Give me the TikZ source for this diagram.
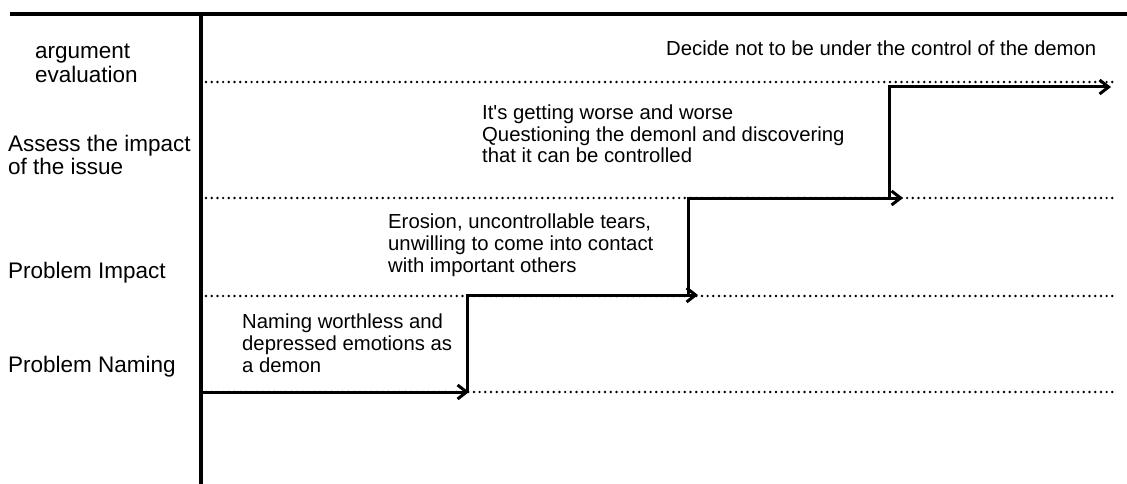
\documentclass[tikz,border=0pt]{standalone}
\usepackage{fontspec}
\setmainfont{Liberation Sans}
\usetikzlibrary{arrows.meta}
\begin{document}
\begin{tikzpicture}[x=1pt,y=-1pt,
  axis/.style={line width=3.2pt},
  guide/.style={line width=2.7pt,line cap=round,dash pattern=on 0pt off 5.7pt},
  flow/.style={line width=3pt,-{Straight Barb[length=9pt,width=14pt,line width=3pt]}},
  lbl/.style={anchor=base west,inner sep=0pt,align=left,font=\fontsize{22.5}{24}\selectfont},
  txt/.style={anchor=base west,inner sep=0pt,align=left,font=\fontsize{20.3}{21.7}\selectfont}]
\useasboundingbox (0,0) rectangle (1127,484);
% axes
\coordinate (tl) at (10,14);
\coordinate (tr) at (1127,14);
\coordinate (vt) at (201,14);
\coordinate (vb) at (201,484);
\draw[axis] (tl) -- (tr);
\draw[axis] (vt) -- (vb);
% guide lines
\coordinate (g1a) at (206,82);  \coordinate (g1b) at (1115,82);
\coordinate (g2a) at (206,198); \coordinate (g2b) at (1115,198);
\coordinate (g3a) at (206,296); \coordinate (g3b) at (1115,296);
\coordinate (g4a) at (206,392); \coordinate (g4b) at (1115,392);
\draw[guide] (g1a) -- (g1b);
\draw[guide] (g2a) -- (g2b);
\draw[guide] (g3a) -- (g3b);
\draw[guide] (g4a) -- (g4b);
% left labels (anchor = baseline of last line)
\node[lbl] (l1) at (35,83) {argument\\evaluation};
\node[lbl] (l2) at (8,175) {Assess the impact\\of the issue};
\node[lbl] (l3) at (8,278) {Problem Impact};
\node[lbl] (l4) at (8,372) {Problem Naming};
% step texts
\node[txt] (t1) at (242,372) {Naming worthless and\\depressed emotions as\\a demon};
\node[txt] (t2) at (388,272) {Erosion, uncontrollable tears,\\unwilling to come into contact\\with important others};
\node[txt] (t3) at (482,163) {It\textquotesingle s getting worse and worse\\Questioning the demonl and discovering\\that it can be controlled};
\node[txt] (t4) at (666,56) {Decide not to be under the control of the demon};
% steps
\coordinate (s0) at (203,392);
\coordinate (a1) at (469,392);
\coordinate (k1) at (467,392);
\coordinate (a2) at (698,295);
\coordinate (k2) at (688,295);
\coordinate (a3) at (903,198);
\coordinate (k3) at (889,198);
\coordinate (a4) at (1111,87);
\draw[flow] (s0) -- (a1);
\draw[flow] (k1) |- (a2);
\draw[flow] (k2) |- (a3);
\draw[flow] (k3) |- (a4);
\end{tikzpicture}
\end{document}
